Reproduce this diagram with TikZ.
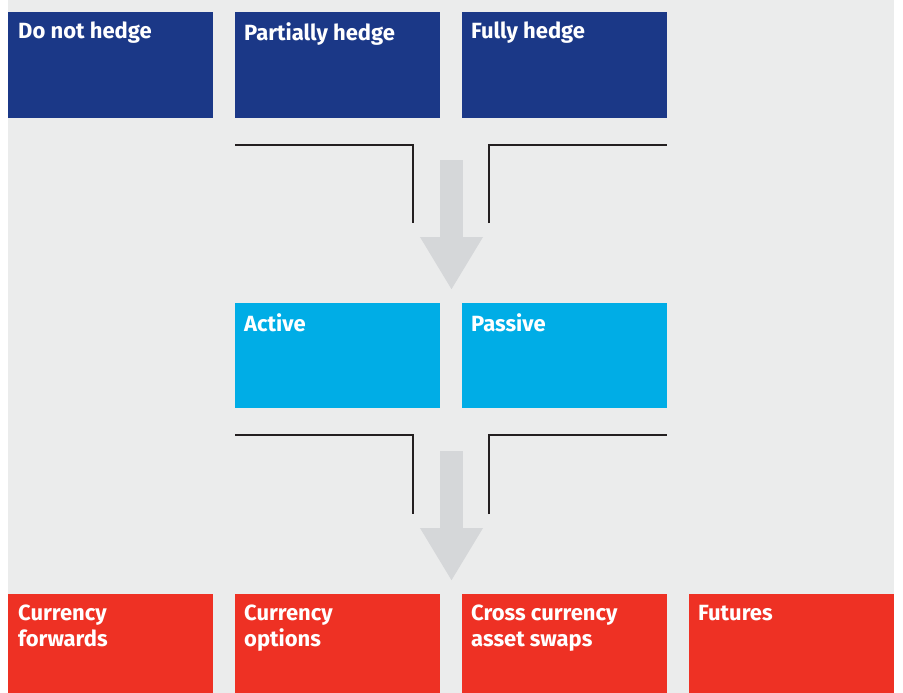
\documentclass[tikz,border=0pt]{standalone}
\usepackage{fontspec}
\setmainfont{Fira Sans}
\usepackage{xcolor}
\usetikzlibrary{arrows.meta}
\definecolor{panelgrey}{HTML}{EBECEC}
\definecolor{arrowgrey}{HTML}{D5D7D9}
\definecolor{linedark}{HTML}{231F20}
\definecolor{hedgeblue}{HTML}{1B3887}
\definecolor{stylecyan}{HTML}{00ADE6}
\definecolor{toolred}{HTML}{EE3124}

\begin{document}
\begin{tikzpicture}[x=1pt,y=-1pt,
		box/.style={rectangle,anchor=north west,minimum width=205pt,minimum height=106pt,inner sep=0pt,outer sep=0pt},
		boxtext/.style={anchor=north west,align=left,inner sep=0pt,text=white,font=\bfseries\fontsize{22}{25.5}\selectfont},
		bracket/.style={line width=2pt,draw=linedark},
		downarrow/.style={line width=23pt,draw=arrowgrey,-{Triangle[width=59pt,length=53pt]}}]
	\useasboundingbox (0,0) rectangle (903,693);
	\fill[panelgrey] (8,0) rectangle (894,693);
	% hedge ratio
	\node[box,fill=hedgeblue] (nohedge) at (8,12) {};
	\node[box,fill=hedgeblue] (partial) at (235,12) {};
	\node[box,fill=hedgeblue] (fully) at (462,12) {};
	\node[boxtext] (nohedgetxt) at ([shift={(10,10)}]nohedge.north west) {Do not hedge};
	\node[boxtext] (partialtxt) at ([shift={(9,10)}]partial.north west) {Partially hedge};
	\node[boxtext] (fullytxt) at ([shift={(9,10)}]fully.north west) {Fully hedge};
	% active or passive
	\node[box,fill=stylecyan,minimum height=105pt] (active) at (235,303) {};
	\node[box,fill=stylecyan,minimum height=105pt] (passive) at (462,303) {};
	\node[boxtext] (activetxt) at ([shift={(9,10)}]active.north west) {Active};
	\node[boxtext] (passivetxt) at ([shift={(9,10)}]passive.north west) {Passive};
	% instruments
	\node[box,fill=toolred,minimum height=99pt] (forwards) at (8,594) {};
	\node[box,fill=toolred,minimum height=99pt] (options) at (235,594) {};
	\node[box,fill=toolred,minimum height=99pt] (swaps) at (462,594) {};
	\node[box,fill=toolred,minimum height=99pt] (futures) at (689,594) {};
	\node[boxtext] (forwardstxt) at ([shift={(10,11)}]forwards.north west) {Currency\\forwards};
	\node[boxtext] (optionstxt) at ([shift={(9,11)}]options.north west) {Currency\\options};
	\node[boxtext] (swapstxt) at ([shift={(9,11)}]swaps.north west) {Cross currency\\asset swaps};
	\node[boxtext] (futurestxt) at ([shift={(9,11)}]futures.north west) {Futures};
	% brackets and arrows
	\coordinate (upperleft) at ([shift={(0,27)}]partial.south west);
	\coordinate (upperright) at ([shift={(0,27)}]fully.south east);
	\coordinate (lowerleft) at ([shift={(0,27)}]active.south west);
	\coordinate (lowerright) at ([shift={(0,27)}]passive.south east);
	\draw[bracket] (upperleft) -| (413,223);
	\draw[bracket] (489,223) |- (upperright);
	\draw[bracket] (lowerleft) -| (413,514);
	\draw[bracket] (489,514) |- (lowerright);
	\coordinate (uppertop) at (451.5,160);
	\coordinate (uppertip) at (451.5,290);
	\coordinate (lowertop) at (451.5,451);
	\coordinate (lowertip) at (451.5,581);
	\draw[downarrow] (uppertop) -- (uppertip);
	\draw[downarrow] (lowertop) -- (lowertip);
\end{tikzpicture}
\end{document}
